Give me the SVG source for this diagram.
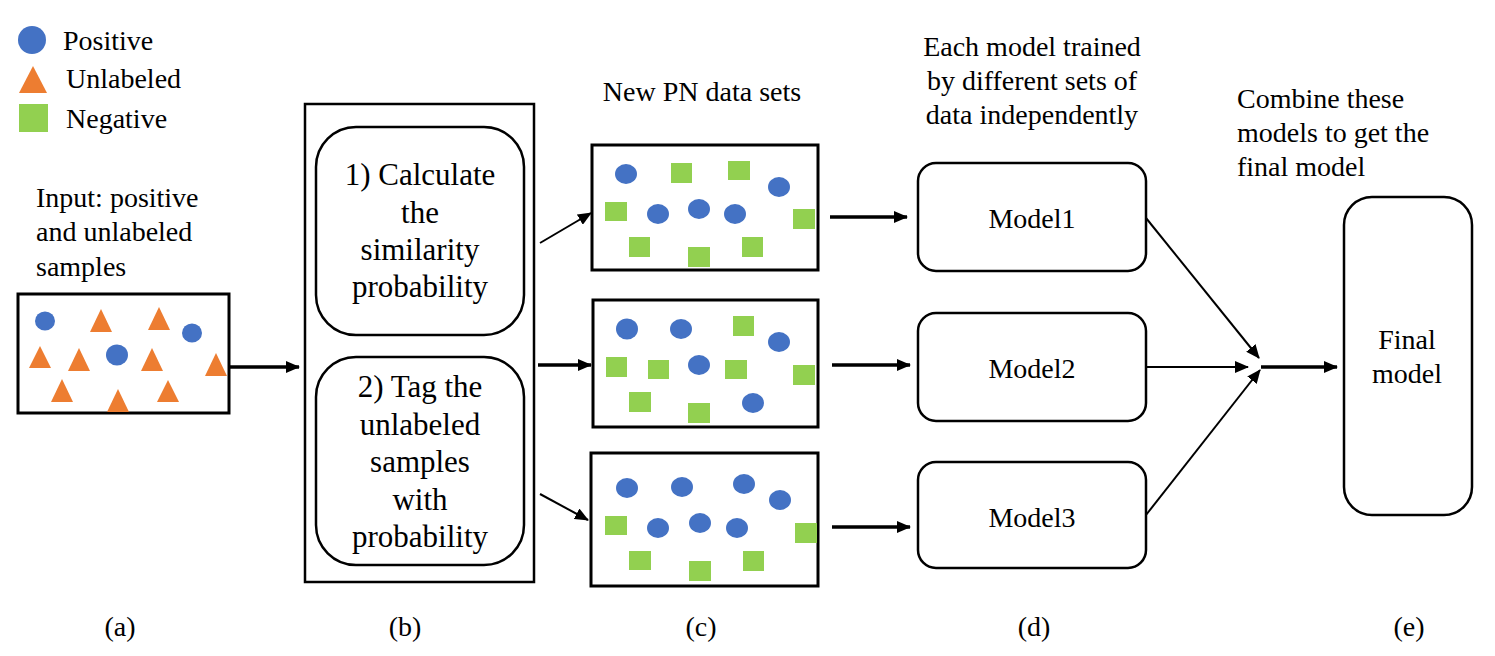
<svg xmlns="http://www.w3.org/2000/svg" width="1495" height="656" viewBox="0 0 1495 656" font-family="'Liberation Serif', serif">
<defs>
<style>
text{font-family:'Liberation Serif',serif;}
.t{font-size:28px;}
.tb{font-size:31px;}
.c{text-anchor:middle;}
.box{fill:#fff;stroke:#000;stroke-width:3;}
.rbox{fill:#fff;stroke:#000;stroke-width:2.5;}
.p{fill:#4472C4;}
.u{fill:#ED7D31;}
.n{fill:#92D050;}
.ln{stroke:#000;stroke-width:2;fill:none;}
.lt{stroke:#000;stroke-width:3.5;fill:none;}
</style>
<marker id="ah" markerUnits="userSpaceOnUse" markerWidth="14" markerHeight="12" refX="13" refY="6" orient="auto">
<path d="M0,0 L14,6 L0,12 z" fill="#000"/>
</marker>
</defs>
<rect width="1495" height="656" fill="#fff"/>

<g id="legend">
<ellipse class="p" cx="32" cy="40" rx="14" ry="14"/>
<polygon class="u" points="33,66 19,93 47,93"/>
<rect class="n" x="19" y="104" width="29" height="28"/>
<text class="t" x="63" y="50">Positive</text>
<text class="t" x="66" y="88">Unlabeled</text>
<text class="t" x="66" y="128">Negative</text>
</g>

<g id="input">
<text class="t" x="36" y="207">Input: positive</text>
<text class="t" x="36" y="241">and unlabeled</text>
<text class="t" x="36" y="276">samples</text>
<rect class="box" x="18" y="294" width="211" height="119"/>
<ellipse class="p" cx="45" cy="321" rx="10" ry="9.5"/>
<ellipse class="p" cx="192" cy="333" rx="10" ry="9.5"/>
<ellipse class="p" cx="117" cy="355" rx="11" ry="10.5"/>
<polygon class="u" points="101,309 90,332 112,332"/>
<polygon class="u" points="159,307 148,330 170,330"/>
<polygon class="u" points="40,346 29,368 51,368"/>
<polygon class="u" points="79,348 68,371 90,371"/>
<polygon class="u" points="152,348 141,371 163,371"/>
<polygon class="u" points="216,353 205,376 227,376"/>
<polygon class="u" points="62,379 51,402 73,402"/>
<polygon class="u" points="118,389 107,412 129,412"/>
<polygon class="u" points="168,380 157,402 179,402"/>
</g>

<g id="process">
<rect class="box" x="305" y="104" width="229" height="478" style="stroke-width:2.5"/>
<rect class="rbox" x="316" y="127" width="208" height="208" rx="40"/>
<text class="tb c" x="420" y="185">1) Calculate</text>
<text class="tb c" x="420" y="223">the</text>
<text class="tb c" x="420" y="260">similarity</text>
<text class="tb c" x="420" y="297">probability</text>
<rect class="rbox" x="316" y="357" width="208" height="208" rx="40"/>
<text class="tb c" x="420" y="397">2) Tag the</text>
<text class="tb c" x="420" y="435">unlabeled</text>
<text class="tb c" x="420" y="472">samples</text>
<text class="tb c" x="420" y="510">with</text>
<text class="tb c" x="420" y="547">probability</text>
</g>

<g id="datasets">
<text class="t c" x="702" y="101">New PN data sets</text>
<rect class="box" x="592" y="145" width="226" height="125"/>
<ellipse class="p" cx="626" cy="174" rx="11" ry="10"/>
<ellipse class="p" cx="779" cy="187" rx="11" ry="10"/>
<ellipse class="p" cx="658" cy="214" rx="11" ry="10"/>
<ellipse class="p" cx="699" cy="209" rx="11" ry="10"/>
<ellipse class="p" cx="735" cy="214" rx="11" ry="10"/>
<rect class="n" x="671" y="163" width="21" height="20"/>
<rect class="n" x="728" y="161" width="22" height="19"/>
<rect class="n" x="605" y="202" width="22" height="19"/>
<rect class="n" x="793" y="209" width="22" height="20"/>
<rect class="n" x="629" y="237" width="21" height="20"/>
<rect class="n" x="688" y="247" width="22" height="20"/>
<rect class="n" x="742" y="237" width="21" height="20"/>

<rect class="box" x="593" y="300" width="225" height="127"/>
<ellipse class="p" cx="627" cy="329" rx="11" ry="10.5"/>
<ellipse class="p" cx="681" cy="329" rx="11" ry="10"/>
<ellipse class="p" cx="779" cy="342" rx="11" ry="10"/>
<ellipse class="p" cx="699" cy="365" rx="11" ry="10"/>
<ellipse class="p" cx="753" cy="403" rx="11" ry="10"/>
<rect class="n" x="733" y="316" width="21" height="20"/>
<rect class="n" x="606" y="357" width="21" height="20"/>
<rect class="n" x="648" y="360" width="21" height="19"/>
<rect class="n" x="725" y="360" width="22" height="19"/>
<rect class="n" x="793" y="365" width="22" height="20"/>
<rect class="n" x="629" y="392" width="22" height="20"/>
<rect class="n" x="688" y="403" width="22" height="20"/>

<rect class="box" x="591" y="453" width="227" height="133"/>
<ellipse class="p" cx="627" cy="488" rx="11" ry="10"/>
<ellipse class="p" cx="682" cy="487" rx="11" ry="10"/>
<ellipse class="p" cx="744" cy="484" rx="11" ry="10"/>
<ellipse class="p" cx="780" cy="500" rx="11" ry="10"/>
<ellipse class="p" cx="658" cy="528" rx="11" ry="10"/>
<ellipse class="p" cx="700" cy="523" rx="11" ry="10"/>
<ellipse class="p" cx="737" cy="528" rx="11" ry="10"/>
<rect class="n" x="605" y="516" width="22" height="19"/>
<rect class="n" x="795" y="523" width="22" height="20"/>
<rect class="n" x="629" y="551" width="22" height="19"/>
<rect class="n" x="689" y="561" width="22" height="20"/>
<rect class="n" x="743" y="551" width="21" height="20"/>
</g>

<g id="models">
<text class="t c" x="1032" y="56">Each model trained</text>
<text class="t c" x="1032" y="90">by different sets of</text>
<text class="t c" x="1032" y="124">data independently</text>
<g id="model1">
<rect class="rbox" x="918" y="163" width="228" height="108" rx="18"/>
<text class="t c" x="1032" y="228">Model1</text>
</g>
<g id="model2">
<rect class="rbox" x="918" y="313" width="228" height="108" rx="18"/>
<text class="t c" x="1032" y="378">Model2</text>
</g>
<g id="model3">
<rect class="rbox" x="918" y="462" width="228" height="106" rx="18"/>
<text class="t c" x="1032" y="527">Model3</text>
</g>
</g>

<g id="final">
<text class="t" x="1237" y="108">Combine these</text>
<text class="t" x="1237" y="142">models to get the</text>
<text class="t" x="1237" y="176">final model</text>
<rect class="rbox" x="1344" y="197" width="128" height="318" rx="28"/>
<text class="t c" x="1407" y="349">Final</text>
<text class="t c" x="1407" y="383">model</text>
</g>

<g id="connectors">
<line class="lt" x1="229" y1="367" x2="299" y2="367" marker-end="url(#ah)"/>
<line class="ln" x1="540" y1="243" x2="591" y2="213" marker-end="url(#ah)"/>
<line class="lt" x1="538" y1="365" x2="591" y2="365" marker-end="url(#ah)"/>
<line class="ln" x1="540" y1="494" x2="588" y2="520" marker-end="url(#ah)"/>
<line class="lt" x1="830" y1="217" x2="907" y2="217" marker-end="url(#ah)"/>
<line class="lt" x1="832" y1="365" x2="910" y2="365" marker-end="url(#ah)"/>
<line class="lt" x1="832" y1="527" x2="910" y2="527" marker-end="url(#ah)"/>
<line class="ln" x1="1146" y1="218" x2="1259" y2="358" marker-end="url(#ah)"/>
<line class="ln" x1="1146" y1="367" x2="1248" y2="367" marker-end="url(#ah)"/>
<line class="ln" x1="1146" y1="515" x2="1260" y2="370" marker-end="url(#ah)"/>
<line class="lt" x1="1261" y1="367" x2="1337" y2="367" marker-end="url(#ah)"/>
</g>

<g id="sublabels">
<text class="t c" x="120" y="636">(a)</text>
<text class="t c" x="405" y="636">(b)</text>
<text class="t c" x="701" y="636">(c)</text>
<text class="t c" x="1034" y="636">(d)</text>
<text class="t c" x="1409" y="636">(e)</text>
</g>
</svg>
